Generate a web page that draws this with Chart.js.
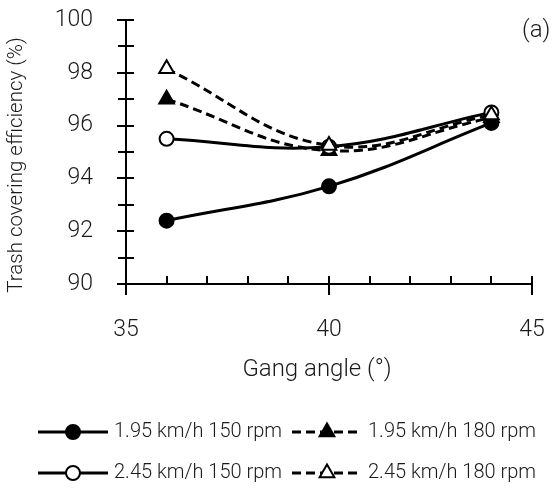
<!DOCTYPE html>
<html>
<head>
<meta charset="utf-8">
<script src="https://cdn.jsdelivr.net/npm/chart.js@4.4.0/dist/chart.umd.min.js"></script>
<style>
  html, body { margin: 0; padding: 0; background: #fff; }
  #wrap { width: 559px; height: 490px; position: relative; }
</style>
</head>
<body>
<div id="wrap"><canvas id="chart"></canvas></div>
<script>
// gang angle (degrees) on x
var gangAngle = [36, 40, 44];

// trash covering efficiency (%)
var eff195kmh150rpm = [92.4, 93.7, 96.1];
var eff195kmh180rpm = [97.0, 95.05, 96.3];
var eff245kmh150rpm = [95.5, 95.2, 96.5];
var eff245kmh180rpm = [98.15, 95.25, 96.4];

var seriesLabels = ['1.95 km/h 150 rpm', '1.95 km/h 180 rpm', '2.45 km/h 150 rpm', '2.45 km/h 180 rpm'];

var xTicks = [35, 40, 45];
var yTicks = [90, 92, 94, 96, 98, 100];

var ink = '#000';
var textColor = '#1a1a1a';
var family = "Roboto, 'Open Sans', sans-serif";

function toPoints(values) {
  return gangAngle.map(function(x, i) { return { x: x, y: values[i] }; });
}

function series(label, values, style, filled, dashed, order) {
  return {
    label: label,
    data: toPoints(values),
    borderColor: ink,
    borderWidth: 3,
    borderDash: dashed ? [9, 5] : [],
    tension: 0.4,
    pointStyle: style,
    pointRadius: style === 'triangle' ? 8.5 : 7,
    pointBorderWidth: 2,
    pointBorderColor: ink,
    pointBackgroundColor: filled ? ink : '#fff',
    clip: false,
    order: order
  };
}

// tick marks: majors cross the axis, minors sit inside
var tickMarks = {
  id: 'tickMarks',
  afterDatasetsDraw: function(chart) {
    var ctx = chart.ctx;
    var xs = chart.scales.x, ys = chart.scales.y;
    var area = chart.chartArea;
    ctx.save();
    ctx.strokeStyle = ink;
    ctx.lineWidth = 2;
    for (var v = 90; v <= 100; v++) {
      var py = Math.round(ys.getPixelForValue(v));
      ctx.beginPath();
      ctx.moveTo(area.left - (v % 2 === 0 ? 9 : 8), py);
      ctx.lineTo(area.left + 8, py);
      ctx.stroke();
    }
    for (var a = 35; a <= 45; a++) {
      var px = Math.round(xs.getPixelForValue(a));
      ctx.beginPath();
      ctx.moveTo(px, area.bottom - 8);
      ctx.lineTo(px, area.bottom + (a % 5 === 0 ? 11 : 0));
      ctx.stroke();
    }
    ctx.restore();
  }
};

function drawMarker(ctx, ds, x, y) {
  ctx.save();
  ctx.setLineDash([]);
  ctx.lineWidth = ds.pointBorderWidth;
  ctx.strokeStyle = ds.pointBorderColor;
  ctx.fillStyle = ds.pointBackgroundColor;
  ctx.beginPath();
  if (ds.pointStyle === 'triangle') {
    var r = ds.pointRadius;
    ctx.moveTo(x, y - r);
    ctx.lineTo(x + r * Math.sin(Math.PI / 3), y + r / 2);
    ctx.lineTo(x - r * Math.sin(Math.PI / 3), y + r / 2);
    ctx.closePath();
  } else {
    ctx.arc(x, y, ds.pointRadius, 0, Math.PI * 2);
  }
  ctx.fill();
  ctx.stroke();
  ctx.restore();
}

// legend: line sample + marker, 2 x 2 grid under the x title
var sampleLegend = {
  id: 'sampleLegend',
  afterDraw: function(chart) {
    var ctx = chart.ctx;
    var cols = [38, 292];
    var rows = [432, 473];
    ctx.save();
    chart.data.datasets.forEach(function(ds, i) {
      var x0 = cols[i % 2], y = rows[Math.floor(i / 2)];
      var x1 = x0 + 70;
      ctx.strokeStyle = ink;
      ctx.lineWidth = 3;
      ctx.setLineDash(ds.borderDash);
      ctx.beginPath();
      ctx.moveTo(x0, y);
      ctx.lineTo(x1, y);
      ctx.stroke();
      drawMarker(ctx, ds, (x0 + x1) / 2, y);
      ctx.fillStyle = textColor;
      ctx.font = "300 20px " + family;
      ctx.textBaseline = 'middle';
      ctx.textAlign = 'left';
      ctx.fillText(ds.label, x1 + 6, y);
    });
    ctx.restore();
  }
};

// axis titles and the (a) panel tag
var extraText = {
  id: 'extraText',
  afterDraw: function(chart) {
    var ctx = chart.ctx;
    ctx.save();
    ctx.fillStyle = textColor;
    ctx.font = "300 24px " + family;
    ctx.textAlign = 'left';
    ctx.textBaseline = 'middle';
    ctx.fillText('(a)', 522, 31);
    ctx.textAlign = 'center';
    ctx.fillText('Gang angle (°)', 317, 370);
    ctx.translate(17, 165);
    ctx.rotate(-Math.PI / 2);
    ctx.font = "300 20.5px " + family;
    ctx.fillText('Trash covering efficiency (%)', 0, 0);
    ctx.restore();
  }
};

Chart.defaults.font.family = family;
Chart.defaults.font.weight = 300;
Chart.defaults.color = textColor;

new Chart(document.getElementById('chart'), {
  type: 'line',
  data: {
    datasets: [
      series(seriesLabels[0], eff195kmh150rpm, 'circle', true, false, 4),
      series(seriesLabels[1], eff195kmh180rpm, 'triangle', true, true, 3),
      series(seriesLabels[2], eff245kmh150rpm, 'circle', false, false, 2),
      series(seriesLabels[3], eff245kmh180rpm, 'triangle', false, true, 1)
    ]
  },
  options: {
    responsive: true,
    maintainAspectRatio: false,
    animation: false,
    layout: { padding: { left: 0, right: 27, top: 20, bottom: 103 } },
    plugins: {
      legend: { display: false },
      tooltip: { enabled: false }
    },
    scales: {
      x: {
        type: 'linear',
        min: 35,
        max: 45,
        afterBuildTicks: function(scale) {
          scale.ticks = xTicks.map(function(v) { return { value: v }; });
        },
        grid: { display: false, drawTicks: false },
        border: { display: true, color: ink, width: 2 },
        ticks: { font: { size: 23 }, padding: 32, maxRotation: 0 },
        afterFit: function(scale) {
          scale.height = 103;
          scale.paddingLeft = 0;
          scale.paddingRight = 0;
        }
      },
      y: {
        min: 90,
        max: 100,
        afterBuildTicks: function(scale) {
          scale.ticks = yTicks.map(function(v) { return { value: v }; });
        },
        grid: { display: false, drawTicks: false },
        border: { display: true, color: ink, width: 2 },
        ticks: { font: { size: 23 }, padding: 33 },
        afterFit: function(scale) {
          scale.width = 126;
          scale.paddingTop = 0;
          scale.paddingBottom = 0;
        }
      }
    }
  },
  plugins: [tickMarks, sampleLegend, extraText]
});
</script>
</body>
</html>
